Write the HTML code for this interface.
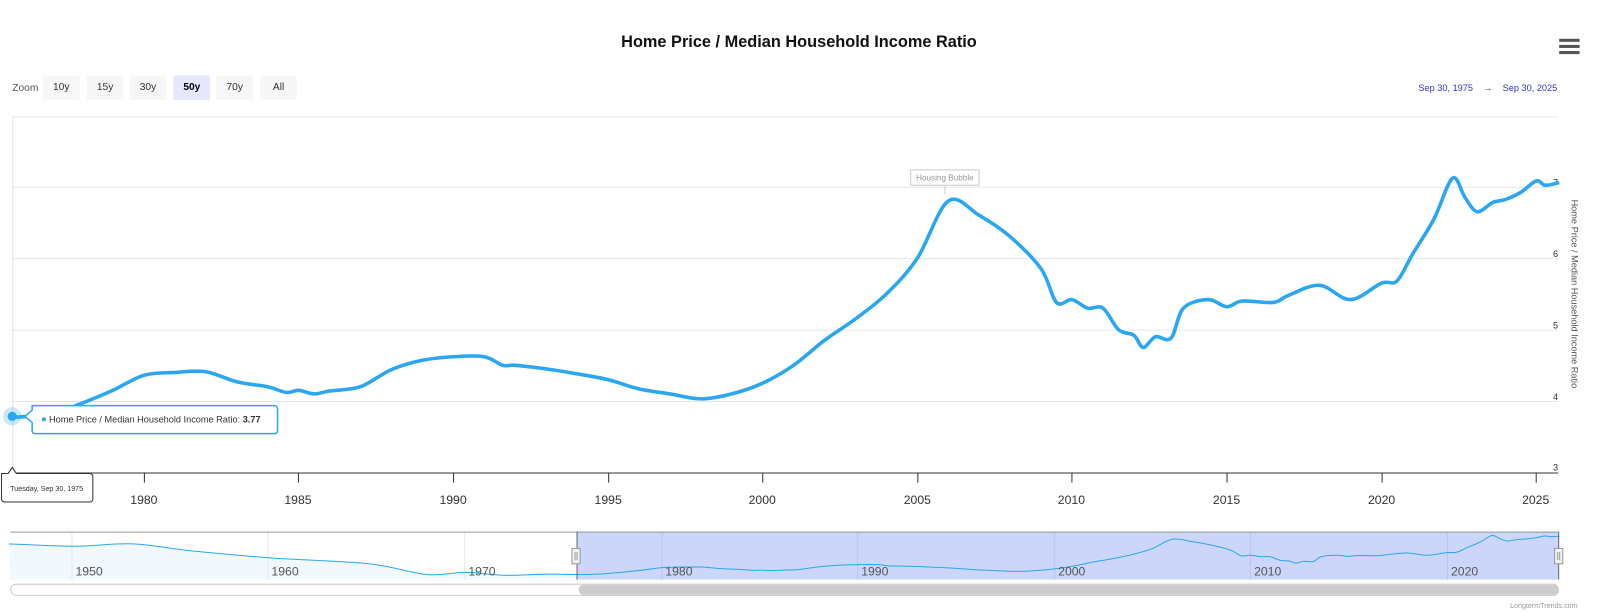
<!DOCTYPE html>
<html><head><meta charset="utf-8"><style>
body{margin:0;width:1600px;height:615px;background:#fff;font-family:"Liberation Sans",sans-serif;overflow:hidden;position:relative}
#w{position:absolute;left:0;top:0;width:1568px;height:603px;transform:scale(1.0204);transform-origin:0 0}
.t{position:absolute;white-space:nowrap}
.btn{position:absolute;top:74px;height:24px;width:36px;background:#f7f7f7;border-radius:2px;font-size:10px;color:#333;text-align:center;line-height:24px}
</style></head><body><div id="w">
<div class="t" style="left:0;width:1566px;text-align:center;top:33px;font-size:16px;font-weight:bold;color:#111">Home Price / Median Household Income Ratio</div>
<div class="t" style="left:1528px;top:38px;"><div style="width:20px;height:3px;background:#555;margin-bottom:3px"></div><div style="width:20px;height:3px;background:#555;margin-bottom:3px"></div><div style="width:20px;height:3px;background:#555"></div></div>
<div class="t" style="left:12px;top:81px;font-size:10px;color:#555">Zoom</div>
<div class="btn" style="left:42px">10y</div><div class="btn" style="left:85px">15y</div><div class="btn" style="left:127px">30y</div>
<div class="btn" style="left:170px;background:#e6e6ff;font-weight:bold;color:#000">50y</div><div class="btn" style="left:212px">70y</div><div class="btn" style="left:255px">All</div>
<div class="t" style="left:1390px;top:81px;font-size:9px;color:#3333cc">Sep 30, 1975 &nbsp;&nbsp; <span style="color:#555">→</span> &nbsp;&nbsp; Sep 30, 2025</div>
<svg width="1568" height="603" style="position:absolute;left:0;top:0">
<g stroke="#e6e6e6" stroke-width="1">
<line x1="12" x2="1527" y1="114.5" y2="114.5"/><line x1="12" x2="1527" y1="183.5" y2="183.5"/><line x1="12" x2="1527" y1="253.5" y2="253.5"/><line x1="12" x2="1527" y1="323.5" y2="323.5"/><line x1="12" x2="1527" y1="393.5" y2="393.5"/>
<line x1="12.5" x2="12.5" y1="114" y2="463"/>
</g>
<line x1="12" x2="1527" y1="463.5" y2="463.5" stroke="#333"/>
<g stroke="#333"><line x1="141.5" x2="141.5" y1="463" y2="473"/><line x1="292.5" x2="292.5" y1="463" y2="473"/><line x1="444.5" x2="444.5" y1="463" y2="473"/><line x1="596.5" x2="596.5" y1="463" y2="473"/><line x1="747.5" x2="747.5" y1="463" y2="473"/><line x1="899.5" x2="899.5" y1="463" y2="473"/><line x1="1050.5" x2="1050.5" y1="463" y2="473"/><line x1="1202.5" x2="1202.5" y1="463" y2="473"/><line x1="1354.5" x2="1354.5" y1="463" y2="473"/><line x1="1505.5" x2="1505.5" y1="463" y2="473"/></g>
<g font-size="12" fill="#333" text-anchor="middle"><text x="141" y="494">1980</text><text x="292" y="494">1985</text><text x="444" y="494">1990</text><text x="596" y="494">1995</text><text x="747" y="494">2000</text><text x="899" y="494">2005</text><text x="1050" y="494">2010</text><text x="1202" y="494">2015</text><text x="1354" y="494">2020</text><text x="1505" y="494">2025</text></g>
<g font-size="9" fill="#333" text-anchor="end"><text x="1527" y="182">7</text><text x="1527" y="252">6</text><text x="1527" y="322">5</text><text x="1527" y="392">4</text><text x="1527" y="461">3</text></g>
<text transform="translate(1540,288) rotate(90)" font-size="9" fill="#555" text-anchor="middle">Home Price / Median Household Income Ratio</text>
<rect x="892.5" y="166.5" width="67" height="15" fill="#fff" stroke="#ccc"/><text x="926" y="177" font-size="8" fill="#999" text-anchor="middle">Housing Bubble</text>
<line x1="926" x2="926" y1="182" y2="190" stroke="#ccc"/>
<path id="main" fill="none" stroke="#2aa7f0" stroke-width="3.5" stroke-linejoin="round"/>
<rect x="10" y="521" width="1517" height="47" fill="#fff"/>
<path id="navf" fill="#e8f4fd" opacity="0.6"/>
<rect x="565" y="521" width="962" height="47" fill="#ccd6fa"/>
<g stroke="#e6e6e6"><line x1="70.5" x2="70.5" y1="521" y2="568"/><line x1="262.5" x2="262.5" y1="521" y2="568"/><line x1="455.5" x2="455.5" y1="521" y2="568"/></g>
<g stroke="#bcc6f0"><line x1="648.5" x2="648.5" y1="521" y2="568"/><line x1="840.5" x2="840.5" y1="521" y2="568"/><line x1="1033.5" x2="1033.5" y1="521" y2="568"/><line x1="1225.5" x2="1225.5" y1="521" y2="568"/><line x1="1418.5" x2="1418.5" y1="521" y2="568"/></g>
<path id="nav" fill="none" stroke="#2aa7f0" stroke-width="1"/>
<line x1="10" x2="1527" y1="521.5" y2="521.5" stroke="#999"/>
<line x1="565.5" x2="565.5" y1="521" y2="568" stroke="#666"/><line x1="1527.5" x2="1527.5" y1="521" y2="568" stroke="#666"/>
<rect x="560.5" y="537.5" width="8" height="15" fill="#f2f2f2" stroke="#999"/><line x1="563.5" x2="563.5" y1="541" y2="549" stroke="#999"/><line x1="565.5" x2="565.5" y1="541" y2="549" stroke="#999"/>
<rect x="1523.5" y="537.5" width="8" height="15" fill="#f2f2f2" stroke="#999"/><line x1="1526.5" x2="1526.5" y1="541" y2="549" stroke="#999"/><line x1="1528.5" x2="1528.5" y1="541" y2="549" stroke="#999"/>
<g font-size="12" fill="#555"><text x="74" y="564">1950</text><text x="266" y="564">1960</text><text x="459" y="564">1970</text><text x="652" y="564">1980</text><text x="844" y="564">1990</text><text x="1037" y="564">2000</text><text x="1229" y="564">2010</text><text x="1422" y="564">2020</text></g>
<rect x="10.5" y="572.5" width="1517" height="11" rx="5.5" fill="#fff" stroke="#ccc"/>
<rect x="567" y="573" width="960" height="10" rx="5" fill="#ccc"/>
<text x="1546" y="596" font-size="7" fill="#999" text-anchor="end">LongtermTrends.com</text>
<circle cx="12" cy="408" r="9" fill="#2aa7f0" opacity="0.25"/><circle cx="12" cy="408" r="4.5" fill="#2aa7f0"/>
<path d="M31.5,397.5 H269 a3,3 0 0 1 3,3 V422 a3,3 0 0 1 -3,3 H34.5 a3,3 0 0 1 -3,-3 V414 l-7,-6 l7,-6 Z" fill="#fff" stroke="#2aa7f0" stroke-width="1.5"/>
<circle cx="43" cy="411" r="2" fill="#2aa7f0"/>
<text x="48" y="414" font-size="9" fill="#333">Home Price / Median Household Income Ratio: <tspan font-weight="bold">3.77</tspan></text>
<path d="M1.5,464 H8 L12,458 L16,464 H88 a3,3 0 0 1 3,3 V489 a3,3 0 0 1 -3,3 H4.5 a3,3 0 0 1 -3,-3 Z" fill="#fff" stroke="#333" stroke-width="1"/>
<text x="10" y="481" font-size="7" fill="#333">Tuesday, Sep 30, 1975</text>
</svg>
</div>
<script>
var d=[[1975.75,3.77],[1977,3.82],[1978,3.97],[1979,4.15],[1980,4.36],[1981,4.4],[1982,4.41],[1983,4.27],[1984,4.2],[1984.6,4.12],[1985,4.15],[1985.5,4.1],[1986,4.14],[1987,4.2],[1988,4.44],[1989,4.57],[1990,4.62],[1991,4.62],[1991.6,4.5],[1992,4.5],[1993,4.45],[1994,4.38],[1995,4.3],[1996,4.17],[1997,4.1],[1998,4.03],[1999,4.1],[2000,4.25],[2001,4.5],[2002,4.85],[2003,5.15],[2004,5.5],[2005,6.0],[2006,6.8],[2007,6.6],[2008,6.3],[2009,5.85],[2009.5,5.38],[2010,5.42],[2010.5,5.3],[2011,5.3],[2011.5,5.0],[2012,4.92],[2012.3,4.75],[2012.7,4.9],[2013.2,4.88],[2013.6,5.3],[2014.4,5.42],[2015,5.32],[2015.5,5.4],[2016.5,5.38],[2017,5.48],[2018,5.62],[2019,5.42],[2020,5.65],[2020.5,5.68],[2021,6.05],[2021.7,6.55],[2022.3,7.12],[2022.7,6.85],[2023.1,6.65],[2023.6,6.78],[2024,6.82],[2024.5,6.92],[2025,7.08],[2025.3,7.02],[2025.75,7.06]];
var pre=[[1946.7,6.4],[1950,6.2],[1953,6.4],[1956,5.8],[1960,5.2],[1965,4.7],[1968,3.77],[1970,3.95],[1972,3.7],[1974,3.8]];
function sm(p){var s="M"+p[0][0].toFixed(1)+","+p[0][1].toFixed(1);for(var i=0;i<p.length-1;i++){var a=p[i-1]||p[i],b=p[i],c=p[i+1],e=p[i+2]||c;s+=" C"+(b[0]+(c[0]-a[0])/6).toFixed(1)+","+(b[1]+(c[1]-a[1])/6).toFixed(1)+" "+(c[0]-(e[0]-b[0])/6).toFixed(1)+","+(c[1]-(e[1]-b[1])/6).toFixed(1)+" "+c[0].toFixed(1)+","+c[1].toFixed(1);}return s;}
var m=d.map(function(q){return[141+30.32*(q[0]-1980),463-70*(q[1]-3)]});
document.getElementById("main").setAttribute("d",sm(m));
var n=pre.concat(d).map(function(q){return[649+19.22*(q[0]-1980),563-(q[1]-3.77)*11.4]});
var ns=sm(n);document.getElementById("nav").setAttribute("d",ns);
document.getElementById("navf").setAttribute("d",ns+" L1527,568 L10,568 Z");
</script>
</body></html>
